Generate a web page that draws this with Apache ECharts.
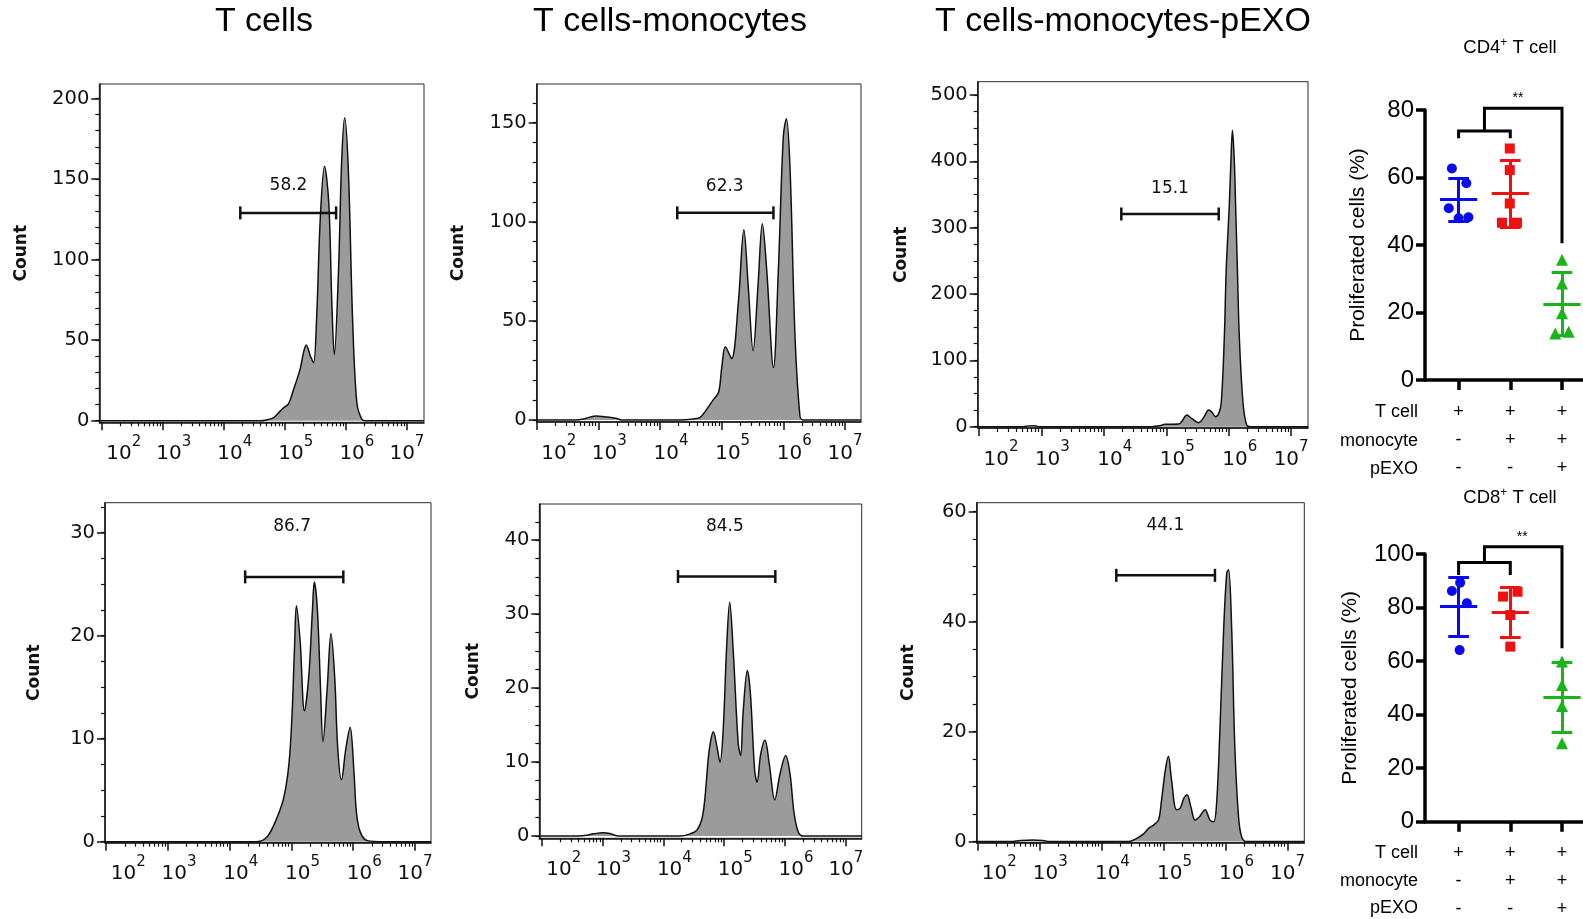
<!DOCTYPE html>
<html><head><meta charset="utf-8">
<script src="https://cdn.jsdelivr.net/npm/echarts@6/dist/echarts.min.js"></script>
<style>html,body{margin:0;padding:0;background:#fff}#c{width:1583px;height:919px}</style>
</head><body><div id="c"></div>
<script>
// ---------------- DATA ----------------
const columnTitles = ['T cells', 'T cells-monocytes', 'T cells-monocytes-pEXO'];
const decadeTicks = [2, 3, 4, 5, 6, 7];          // x = log10(intensity)
const minorMultipliers = [2, 3, 4, 5, 6, 7, 8, 9];

// histogram outlines: [log10(intensity), count]
const cd4_T = [[1.96,0],[4.6,0],[4.68,0.3],[4.81,1.7],[4.92,5.8],[4.98,8],[5.06,10.5],[5.14,19],[5.25,32],[5.31,43],[5.35,47],[5.42,40],[5.47,36],[5.52,63],[5.58,125],[5.65,158],[5.72,135],[5.77,73],[5.81,41],[5.88,94],[5.93,160],[5.98,188],[6.04,156],[6.11,63],[6.18,11],[6.26,1],[6.32,0],[7.28,0]];
const cd4_TM = [[2.0,0],[2.62,0],[2.76,0.5],[2.95,2],[3.14,1.5],[3.3,0.8],[3.38,0],[4.32,0],[4.54,0.5],[4.65,1.3],[4.76,5.5],[4.86,10],[4.95,14],[5.0,26],[5.06,37],[5.16,31],[5.27,59],[5.36,96],[5.43,68],[5.51,35],[5.59,68],[5.66,99],[5.73,76],[5.84,26.5],[5.92,76],[6.0,143],[6.05,152],[6.11,126],[6.19,42],[6.27,2],[6.32,0],[7.26,0]];
const cd4_TME = [[1.98,0],[2.71,0],[2.79,1.2],[2.9,1.5],[2.95,0],[4.77,0],[4.9,1.5],[4.98,3.5],[5.2,4],[5.25,8],[5.33,17.5],[5.41,12],[5.52,6],[5.6,14],[5.68,25],[5.73,22],[5.79,15],[5.84,20],[5.88,35],[5.93,135],[5.96,236],[6.01,335],[6.04,412],[6.06,447],[6.09,400],[6.11,335],[6.14,236],[6.17,135],[6.23,35],[6.29,2],[6.35,0],[7.27,0]];
const cd8_T = [[1.98,0],[4.44,0],[4.61,0.5],[4.77,2.4],[4.88,4.4],[4.96,7.6],[5.01,12.4],[5.05,18.9],[5.08,22.9],[5.14,19.5],[5.21,12.7],[5.28,16],[5.34,22.5],[5.37,25.2],[5.42,22.5],[5.47,15],[5.51,9.7],[5.58,15],[5.64,20.2],[5.7,16],[5.75,9],[5.81,6],[5.88,9],[5.95,11.1],[6.01,7],[6.05,3],[6.11,1],[6.23,0.1],[6.5,0],[7.26,0]];
const cd8_TM = [[1.96,0],[2.6,0],[2.74,0.1],[2.85,0.3],[3.01,0.45],[3.12,0.35],[3.26,0],[4.27,0],[4.44,0.3],[4.55,0.8],[4.63,2.2],[4.68,4.9],[4.74,10.7],[4.78,13],[4.82,14.1],[4.88,12.1],[4.93,10],[4.98,13.9],[5.04,25.6],[5.09,31.6],[5.15,24.7],[5.23,12.5],[5.27,10.9],[5.31,16.6],[5.38,22.4],[5.43,19.3],[5.5,8.9],[5.54,7.3],[5.6,11.1],[5.67,13],[5.74,9.8],[5.83,4.9],[5.92,8.5],[6.01,10.9],[6.08,8.5],[6.15,3],[6.22,0.5],[6.3,0],[7.26,0]];
const cd8_TME = [[1.99,0],[2.53,0],[2.7,0.2],[2.9,0.3],[3.05,0.2],[3.17,0],[4.44,0],[4.57,0.6],[4.68,1.4],[4.76,2.4],[4.84,3],[4.92,3.9],[4.97,7.6],[5.03,13],[5.08,15.5],[5.13,11.2],[5.21,5.8],[5.27,6.1],[5.33,7.9],[5.38,8.5],[5.44,6.4],[5.51,3.9],[5.58,4.5],[5.67,5.8],[5.75,3.9],[5.81,3.6],[5.86,7.6],[5.91,20.3],[5.97,38.5],[6.02,48.8],[6.05,49.4],[6.1,38.5],[6.15,17.3],[6.21,4.5],[6.26,0.9],[6.34,0],[7.27,0]];

// y-axis tick labels per histogram
const yTicks_cd4_T = [0, 50, 100, 150, 200];
const yTicks_cd4_TM = [0, 50, 100, 150];
const yTicks_cd4_TME = [0, 100, 200, 300, 400, 500];
const yTicks_cd8_T = [0, 10, 20, 30];
const yTicks_cd8_TM = [0, 10, 20, 30, 40];
const yTicks_cd8_TME = [0, 20, 40, 60];

// gates: [from, to, y], gate percentages and label anchor [x, y]
const gates = [[4.27,5.84,129],[4.28,5.84,104.5],[4.28,5.84,320.6],[4.25,5.84,25.7],[4.24,5.84,35.1],[4.24,5.83,48.4]];
const gatePercent = ['58.2', '62.3', '15.1', '86.7', '84.5', '44.1'];
const gateLabelPos = [[5.06,146],[5.05,118],[5.06,359],[5.01,30.6],[5.01,41.9],[5.03,57.4]];

// summary dot plots
const conditionRows = ['T cell', 'monocyte', 'pEXO'];
const conditionSigns = [['+','-','-'], ['+','+','-'], ['+','+','+']];
const cd4Points = [
  [[-0.13,62.7],[0.15,58.3],[-0.19,50.9],[0,47.9],[0.19,48.2]],
  [[-0.01,68.6],[-0.01,62.2],[-0.01,52.3],[-0.16,46.6],[0.13,46.6]],
  [[0,35.6],[0,28.6],[0,19.8],[-0.13,13.8],[0.13,14.3]]
];
const cd4Mean = [53.45, 55.2, 22.55];
const cd4SD = [6.35, 9.8, 9.25];
const cd8Points = [
  [[-0.13,86.2],[0.03,89.3],[0.16,81.6],[0.02,64.1]],
  [[-0.14,84.1],[0.14,85.9],[0,77.2],[0,65.4]],
  [[0,59.8],[0,51.1],[0,43.2],[0,29.3]]
];
const cd8Mean = [80.35, 78.2, 46.4];
const cd8SD = [10.95, 9.3, 13.0];
// significance bracket: [tick bottom, lower bar, upper bar, right leg bottom], star position
const cd4Bracket = [71.6, 73.8, 80.5, 40.5];
const cd8Bracket = [92.2, 96.8, 102.7, 64.8];
const cd4Star = [2.15, 83.6];
const cd8Star = [2.23, 106.3];

// ---------------- LAYOUT / STYLE ----------------
const FONT = 'DejaVu Sans';
const SANS = 'Liberation Sans, Arial, sans-serif';
const INK = '#111111';
const groupColors = ['#0a0af0', '#f01010', '#18b418'];
const groupSymbols = ['circle', 'rect', 'triangle'];

const histPanels = [
  {data: cd4_T,   yt: yTicks_cd4_T,   minor: 10,  l: 99.3,  t: 84,    r: 424,   b: 422.3, xmin: 1.96, xmax: 7.28, ymin: -1,   ymax: 209,   ng: 69},
  {data: cd4_TM,  yt: yTicks_cd4_TM,  minor: 10,  l: 536.7, t: 84,    r: 861,   b: 422,   xmin: 2.0,  xmax: 7.26, ymin: -1,   ymax: 169.5, ng: 70},
  {data: cd4_TME, yt: yTicks_cd4_TME, minor: 25,  l: 977.7, t: 81.7,  r: 1308,  b: 428,   xmin: 1.98, xmax: 7.27, ymin: -2,   ymax: 520,   ng: 67.5},
  {data: cd8_T,   yt: yTicks_cd8_T,   minor: 2.5, l: 105,   t: 502.7, r: 431,   b: 842.7, xmin: 1.98, xmax: 7.26, ymin: -0.1, ymax: 32.9,  ng: 61.5},
  {data: cd8_TM,  yt: yTicks_cd8_TM,  minor: 2.5, l: 539.3, t: 504,   r: 861.7, b: 838.3, xmin: 1.96, xmax: 7.26, ymin: -0.3, ymax: 44.9,  ng: 57.5},
  {data: cd8_TME, yt: yTicks_cd8_TME, minor: 5,   l: 976.7, t: 502.7, r: 1304.3,b: 842.7, xmin: 1.99, xmax: 7.27, ymin: -0.2, ymax: 61.6,  ng: 60}
];

const G = [], X = [], Y = [], S = [], GR = [];

histPanels.forEach((p, i) => {
  const gi = G.length;
  G.push({left: p.l, top: p.t, width: p.r - p.l, height: p.b - p.t, show: true, outerBoundsMode: 'none',
          borderColor: '#2a2a2a', borderWidth: 1, backgroundColor: 'transparent'});
  const xMinor = [];
  for (let n = 1; n <= 7; n++) minorMultipliers.forEach(m => {
    const v = n + Math.log10(m);
    if (v > p.xmin && v < p.xmax) xMinor.push(v);
  });
  const yMinor = [];
  for (let v = 0; v <= p.ymax; v += p.minor) yMinor.push(v);
  const xi = X.length;
  X.push({gridIndex: gi, type: 'value', position: 'bottom', min: p.xmin, max: p.xmax,
    axisLine: {show: true, onZero: false, lineStyle: {color: INK, width: 1.5}},
    splitLine: {show: false},
    axisTick: {show: true, customValues: decadeTicks, length: 8, lineStyle: {color: INK, width: 1.5}},
    axisLabel: {show: true, customValues: decadeTicks, margin: 12, color: INK, fontFamily: FONT,
      formatter: v => {
        const e = Math.round(v);
        const k = e === decadeTicks[0] ? 'f' : (e === decadeTicks[decadeTicks.length - 1] ? 'l' : 'm');
        return '{' + k + '|10}{s|' + e + '}';
      },
      rich: {
        f: {fontSize: 20, fontFamily: FONT, color: INK, padding: [0, 0, 0, 44]},
        m: {fontSize: 20, fontFamily: FONT, color: INK, padding: [0, 0, 0, 22]},
        l: {fontSize: 20, fontFamily: FONT, color: INK},
        s: {fontSize: 15, fontFamily: FONT, color: INK, padding: [0, 0, 24, 0]}
      }}
  });
  X.push({gridIndex: gi, type: 'value', position: 'bottom', offset: 0, min: p.xmin, max: p.xmax,
    axisLine: {show: false, onZero: false}, splitLine: {show: false}, axisLabel: {show: false},
    axisTick: {show: true, customValues: xMinor, length: 4, lineStyle: {color: INK, width: 1.2}}});
  const yi = Y.length;
  Y.push({gridIndex: gi, type: 'value', position: 'left', min: p.ymin, max: p.ymax,
    name: 'Count', nameLocation: 'middle', nameRotate: 90, nameGap: p.ng,
    nameTextStyle: {fontFamily: FONT, fontWeight: 'bold', fontSize: 17, color: INK},
    axisLine: {show: true, onZero: false, lineStyle: {color: INK, width: 1.5}},
    splitLine: {show: false},
    axisTick: {show: true, customValues: p.yt, length: 8, lineStyle: {color: INK, width: 1.5}},
    axisLabel: {show: true, customValues: p.yt, margin: 10, fontSize: 19.5, fontFamily: FONT, color: INK}});
  Y.push({gridIndex: gi, type: 'value', position: 'left', offset: 0, min: p.ymin, max: p.ymax,
    axisLine: {show: false, onZero: false}, splitLine: {show: false}, axisLabel: {show: false},
    axisTick: {show: true, customValues: yMinor, length: 4, lineStyle: {color: INK, width: 1.2}}});

  S.push({type: 'line', xAxisIndex: xi, yAxisIndex: yi, data: p.data, smooth: 0.35,
    symbol: 'none', silent: true, z: 2,
    lineStyle: {color: INK, width: 1.5}, areaStyle: {color: '#9b9b9b', opacity: 1}});
  const g = gates[i];
  S.push({type: 'line', xAxisIndex: xi, yAxisIndex: yi, data: [[g[0], g[2]], [g[1], g[2]]],
    symbol: 'rect', symbolSize: [2.5, 13], showSymbol: true, silent: true, z: 5,
    itemStyle: {color: INK, opacity: 1}, lineStyle: {color: INK, width: 2.5}});
  S.push({type: 'scatter', xAxisIndex: xi, yAxisIndex: yi, silent: true, z: 5,
    data: [[gateLabelPos[i][0], gateLabelPos[i][1], gatePercent[i]]], symbolSize: 0,
    itemStyle: {opacity: 1},
    label: {show: true, position: 'inside', formatter: q => q.value[2],
      fontFamily: FONT, fontSize: 17, color: INK}});
});

// column titles
const titleX = [264, 670, 1123];
columnTitles.forEach((t, i) => GR.push({type: 'text', x: titleX[i], y: 22,
  style: {text: t, font: '34px ' + SANS, fill: '#000', align: 'center', verticalAlign: 'middle'}}));

// ---------------- DOT PLOTS ----------------
const dotPanels = [
  {title: 'CD4', pts: cd4Points, mean: cd4Mean, sd: cd4SD, br: cd4Bracket, star: cd4Star,
   top: 110, bottom: 380, ymax: 80, ng: 56.5, titleY: 48, rowY: [412, 441, 469], lm: 18},
  {title: 'CD8', pts: cd8Points, mean: cd8Mean, sd: cd8SD, br: cd8Bracket, star: cd8Star,
   top: 554, bottom: 821.7, ymax: 100, ng: 64.5, titleY: 498, rowY: [853, 881, 908], lm: 17}
];
const cats = [1, 2, 3];
dotPanels.forEach(d => {
  const gi = G.length;
  G.push({left: 1425, top: d.top, width: 168, height: d.bottom - d.top, show: false, outerBoundsMode: 'none'});
  const xi = X.length;
  X.push({gridIndex: gi, type: 'value', position: 'bottom', min: 0.35, max: 3.6,
    axisLine: {show: true, onZero: false, lineStyle: {color: '#000', width: 3.5}},
    splitLine: {show: false},
    axisTick: {show: true, customValues: cats, length: 10, lineStyle: {color: '#000', width: 3.5}},
    axisLabel: {show: true, customValues: cats, margin: d.lm, fontSize: 18, lineHeight: 28,
      fontFamily: SANS, color: '#000',
      formatter: v => conditionSigns[Math.round(v) - 1].join('\n')}});
  const yi = Y.length;
  Y.push({gridIndex: gi, type: 'value', position: 'left', min: 0, max: d.ymax, interval: 20,
    name: 'Proliferated cells (%)', nameLocation: 'middle', nameRotate: 90, nameGap: d.ng,
    nameTextStyle: {fontFamily: SANS, fontSize: 21, color: '#000'},
    axisLine: {show: true, onZero: false, lineStyle: {color: '#000', width: 3.5}},
    splitLine: {show: false},
    axisTick: {show: true, length: 9, lineStyle: {color: '#000', width: 3.5}},
    axisLabel: {margin: 11, fontSize: 24, fontFamily: SANS, color: '#000'}});
  d.pts.forEach((grp, k) => {
    S.push({type: 'scatter', xAxisIndex: xi, yAxisIndex: yi, clip: false, silent: true, z: 3,
      symbol: groupSymbols[k], symbolSize: k === 2 ? 12 : 10,
      itemStyle: {color: groupColors[k], opacity: 1},
      data: grp.map(pt => [cats[k] + pt[0], pt[1]])});
    const x = cats[k], m = d.mean[k], lo = m - d.sd[k], hi = m + d.sd[k];
    S.push({type: 'lines', coordinateSystem: 'cartesian2d', xAxisIndex: xi, yAxisIndex: yi,
      clip: false, silent: true, z: 4,
      lineStyle: {color: groupColors[k], width: 3, opacity: 1},
      data: [
        {coords: [[x, lo], [x, hi]]},
        {coords: [[x - 0.2, hi], [x + 0.2, hi]]},
        {coords: [[x - 0.2, lo], [x + 0.2, lo]]},
        {coords: [[x - 0.36, m], [x + 0.36, m]]}
      ]});
  });
  const b = d.br;
  S.push({type: 'lines', coordinateSystem: 'cartesian2d', xAxisIndex: xi, yAxisIndex: yi,
    polyline: true, clip: false, silent: true, z: 4,
    lineStyle: {color: '#000', width: 3, opacity: 1},
    data: [
      {coords: [[1, b[0]], [1, b[1]], [2, b[1]], [2, b[0]]]},
      {coords: [[1.5, b[1]], [1.5, b[2]], [3, b[2]], [3, b[3]]]}
    ]});
  S.push({type: 'scatter', xAxisIndex: xi, yAxisIndex: yi, clip: false, silent: true,
    symbolSize: 0, data: [[d.star[0], d.star[1], '**']], itemStyle: {opacity: 1},
    label: {show: true, position: 'inside', formatter: q => q.value[2],
      fontFamily: SANS, fontSize: 14, color: '#000'}});
  GR.push({type: 'text', x: 1510, y: d.titleY,
    style: {text: '{a|' + d.title + '}{s|+}{a| T cell}', align: 'center', verticalAlign: 'middle',
      rich: {a: {fontSize: 18.5, fontFamily: SANS, fill: '#000'},
             s: {fontSize: 12, fontFamily: SANS, fill: '#000', padding: [0, 0, 11, 0]}}}});
  conditionRows.forEach((r, j) => GR.push({type: 'text', x: 1418, y: d.rowY[j],
    style: {text: r, font: '18px ' + SANS, fill: '#000', align: 'right', verticalAlign: 'middle'}}));
});

const chart = echarts.init(document.getElementById('c'), null, {renderer: 'canvas'});
chart.setOption({animation: false, backgroundColor: '#fff', grid: G, xAxis: X, yAxis: Y, series: S, graphic: GR});
</script></body></html>
